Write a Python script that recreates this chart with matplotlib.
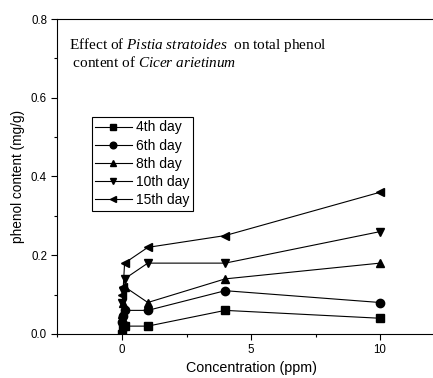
import matplotlib
matplotlib.use("Agg")
from matplotlib import pyplot as plt
from matplotlib.ticker import MultipleLocator

plt.rcParams['font.family'] = ['Liberation Sans', 'DejaVu Sans']
plt.rcParams['mathtext.fontset'] = 'custom'
plt.rcParams['mathtext.rm'] = 'Liberation Serif'
plt.rcParams['mathtext.it'] = 'Liberation Serif:italic'

conc = [0, 0.05, 0.1, 1, 4, 10]
day4 = [0.0, 0.02, 0.02, 0.02, 0.06, 0.04]
day6 = [0.03, 0.045, 0.06, 0.06, 0.11, 0.08]
day8 = [0.05, 0.08, 0.12, 0.08, 0.14, 0.18]
day10 = [0.08, 0.11, 0.14, 0.18, 0.18, 0.26]
day15 = [0.10, 0.12, 0.18, 0.22, 0.25, 0.36]

series = [
    ("4th day", day4, "s"),
    ("6th day", day6, "o"),
    ("8th day", day8, "^"),
    ("10th day", day10, "v"),
    ("15th day", day15, "<"),
]

fig = plt.figure(figsize=(4.33, 3.78), dpi=100)
ax = fig.add_axes([57.5 / 433, 1 - 334 / 378, 387 / 433, 315 / 378])

for label, vals, m in series:
    ax.plot(conc, vals, marker=m, color="black", lw=0.8, markersize=6, label=label)

ax.set_xlim(-2.5, 12.5)
ax.set_ylim(0, 0.8)
ax.xaxis.set_major_locator(MultipleLocator(5))
ax.xaxis.set_minor_locator(MultipleLocator(2.5))
ax.yaxis.set_major_locator(MultipleLocator(0.2))
ax.yaxis.set_minor_locator(MultipleLocator(0.1))
ax.yaxis.set_major_formatter(matplotlib.ticker.FormatStrFormatter('%.1f'))
ax.tick_params(which='major', direction='out', length=4, width=0.8, labelsize=8.3)
ax.tick_params(which='minor', direction='out', length=2.5, width=0.8)
ax.set_xlabel("Concentration (ppm)", fontsize=10.3, labelpad=3)
ax.set_ylabel("phenol content (mg/g)", fontsize=9.8, labelpad=4)

ax.text(0.03, 0.947,
        "Effect of $\\it{Pistia\\ stratoides}$  on total phenol\n content of $\\it{Cicer\\ arietinum}$",
        transform=ax.transAxes, fontsize=11, family='Liberation Serif',
        va='top', ha='left', linespacing=1.15)

leg = ax.legend(loc='upper left', bbox_to_anchor=(0.089, 0.689), fontsize=10,
                frameon=True, fancybox=False, edgecolor='black', framealpha=1,
                handlelength=2.6, handletextpad=0.3, labelspacing=0.3,
                borderpad=0.25, borderaxespad=0, markerscale=0.8)
leg.get_frame().set_linewidth(0.8)

fig.savefig("out.png", dpi=100)
